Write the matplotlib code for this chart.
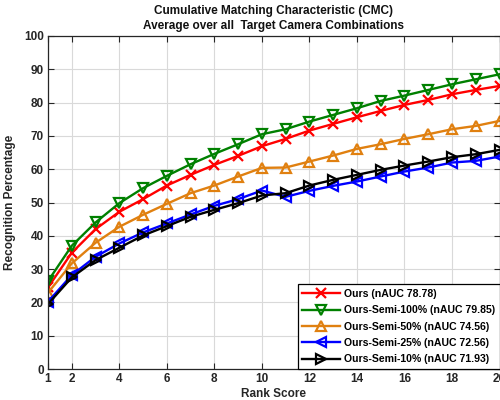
import matplotlib
matplotlib.use("Agg")
import matplotlib.pyplot as plt

ranks = list(range(1, 21))
ours = [24.5, 34.9, 42.0, 47.2, 51.0, 55.1, 58.3, 61.3, 64.0, 66.9, 69.1, 71.6, 73.6, 75.6, 77.5, 79.3, 80.8, 82.5, 83.8, 85.0]
semi100 = [26.4, 37.0, 44.0, 49.8, 54.3, 58.0, 61.5, 64.6, 67.5, 70.5, 72.0, 74.3, 76.3, 78.3, 80.5, 82.1, 83.8, 85.5, 87.0, 88.5]
semi50 = [22.9, 31.7, 37.9, 42.7, 46.3, 49.6, 52.8, 55.1, 57.8, 60.4, 60.5, 62.3, 64.1, 66.1, 67.5, 69.1, 70.5, 72.0, 73.0, 74.5]
semi25 = [20.2, 28.2, 33.7, 37.7, 41.0, 43.7, 46.4, 49.0, 51.0, 53.6, 51.7, 53.5, 55.0, 56.3, 57.8, 59.3, 60.5, 62.0, 62.5, 63.8]
semi10 = [19.5, 27.5, 32.7, 36.4, 40.1, 42.9, 45.7, 47.8, 49.8, 52.1, 52.8, 55.1, 56.8, 58.3, 59.8, 61.1, 62.3, 63.6, 64.5, 65.8]
labels = ["Ours (nAUC 78.78)", "Ours-Semi-100% (nAUC 79.85)", "Ours-Semi-50% (nAUC 74.56)",
          "Ours-Semi-25% (nAUC 72.56)", "Ours-Semi-10% (nAUC 71.93)"]
xticks = [1, 2, 4, 6, 8, 10, 12, 14, 16, 18, 20]
yticks = list(range(0, 101, 10))

plt.rcParams['font.family'] = ['Liberation Sans', 'DejaVu Sans']
fig = plt.figure(figsize=(5, 4), dpi=100)
ax = fig.add_axes([0.096, 0.0775, 0.903, 0.8325])

series = [ours, semi100, semi50, semi25, semi10]
colors = ['#FF0000', '#008000', '#E08010', '#0000FF', '#000000']
markers = ['x', 'v', '^', '<', '>']
for ys, c, m, lab in zip(series, colors, markers, labels):
    ax.plot(ranks, ys, color=c, marker=m, lw=1.7, ms=6.5,
            mfc='none', mew=1.6, label=lab)

ax.set_xlim(1, 20)
ax.set_ylim(0, 100)
ax.set_xticks(xticks)
ax.set_yticks(yticks)
ax.grid(True, color='#d9d9d9', lw=0.8)
ax.set_axisbelow(True)
ax.tick_params(direction='in', top=True, right=True, length=4, width=0.8,
               colors='#262626', labelsize=8.5, pad=3)
for lab in ax.get_xticklabels() + ax.get_yticklabels():
    lab.set_fontweight('bold')
for s in ax.spines.values():
    s.set_color('#262626')
    s.set_linewidth(0.9)

ax.set_xlabel('Rank Score', fontsize=8.5, fontweight='bold', color='#262626', labelpad=2)
ax.set_ylabel('Recognition Percentage', fontsize=8.5, fontweight='bold', color='#262626', labelpad=6)
ax.set_title('Cumulative Matching Characteristic (CMC)\nAverage over all  Target Camera Combinations',
             fontsize=8.5, fontweight='bold', color='#111111', pad=5, linespacing=1.3)

leg = ax.legend(loc='lower right', borderaxespad=0, fancybox=False, framealpha=1,
                edgecolor='black', prop={'weight': 'bold', 'size': 7.6},
                handlelength=3.6, handletextpad=0.3, labelspacing=0.6, borderpad=0.45)
leg.get_frame().set_linewidth(0.9)

fig.savefig('out.png', dpi=100)
